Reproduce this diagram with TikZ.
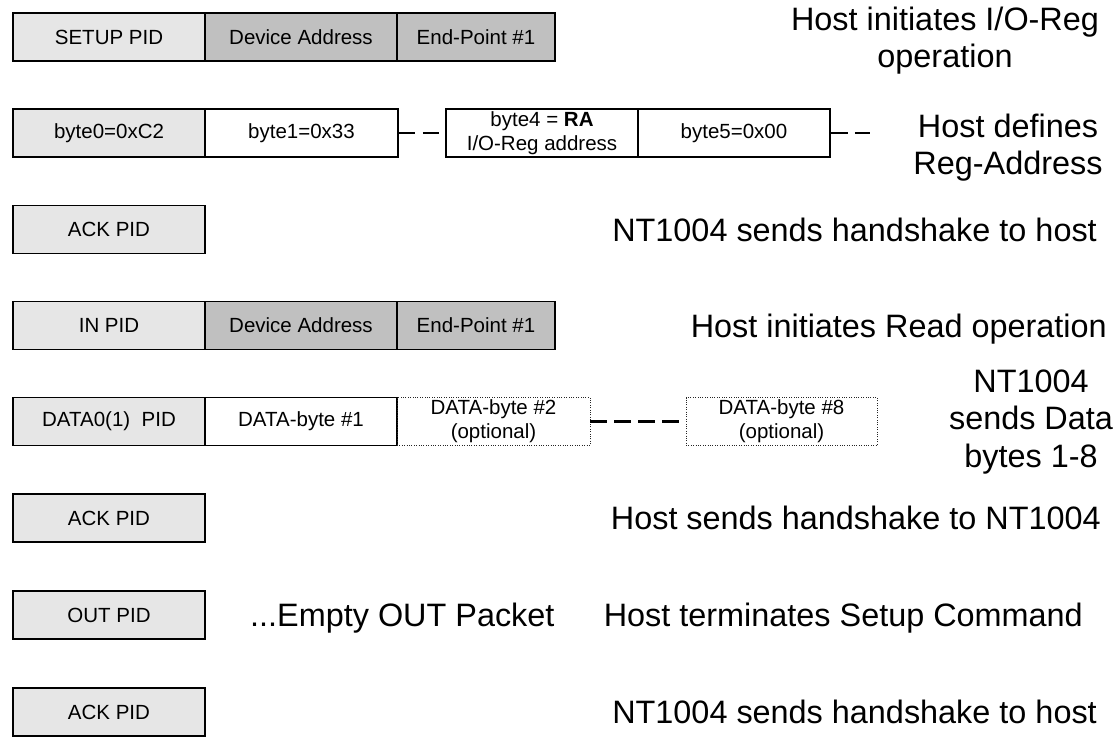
\documentclass[tikz,border=0pt]{standalone}
\usepackage{fontspec}
\setmainfont{Liberation Sans}
\definecolor{pidgray}{HTML}{E6E6E6}
\definecolor{addrgray}{HTML}{C0C0C0}
\newcommand\bxfont{\fontsize{20.5}{24}\selectfont}
\newcommand\lblfont{\fontsize{32.4}{37.3}\selectfont}
\tikzset{
  fld/.style={draw=black, line width=1.5pt, minimum height=48pt, inner sep=0pt,
              font=\bxfont, align=center, fill=white},
  pid/.style={fld, fill=pidgray},
  addr/.style={fld, fill=addrgray},
  opt/.style={draw=black!85, line width=0.8pt, dash pattern=on 0.9pt off 1.5pt,
              minimum height=48pt, inner sep=0pt, font=\bxfont, align=center},
  dashln/.style={line width=2.2pt, dash pattern=on 16pt off 8pt},
  lbl/.style={font=\lblfont, inner sep=0pt, align=center}
}
\begin{document}
\begin{tikzpicture}[x=1pt,y=-1pt]
\useasboundingbox (0,0) rectangle (1119,737);

% Row 1
\node[pid, minimum width=192pt]  (setup) at (109,37) {SETUP PID};
\node[addr, minimum width=192pt] (dev1)  at (301,37) {Device Address};
\node[addr, minimum width=158pt] (ep1)   at (476,37) {End-Point \#1};

% Row 2
\node[pid, minimum width=192pt] (byte0) at (109,133) {byte0=0xC2};
\node[fld, minimum width=193pt] (byte1) at (301.5,133) {byte1=0x33};
\node[fld, minimum width=192pt] (byte4) at (542,133) {byte4 = \textbf{RA}\\I/O-Reg address};
\node[fld, minimum width=192pt] (byte5) at (734,133) {byte5=0x00};
\coordinate (b5end) at (870,133);
\draw[dashln] (byte1.east) -- (byte4.west);
\draw[dashln, dash pattern=on 17pt off 7pt] (byte5.east) -- (b5end);

% Row 3
\node[pid, minimum width=192pt] (ack1) at (109,229.5) {ACK PID};

% Row 4
\node[pid, minimum width=192pt]  (inpid) at (109,325.5) {IN PID};
\node[addr, minimum width=192pt] (dev2)  at (301,325.5) {Device Address};
\node[addr, minimum width=158pt] (ep2)   at (476,325.5) {End-Point \#1};

% Row 5
\node[pid, minimum width=192pt] (data0) at (109,421.5) {DATA0(1)\ \ PID};
\node[fld, minimum width=192pt] (d1)    at (301,421.5) {DATA-byte \#1};
\node[opt, minimum width=193pt] (d2)    at (493.5,421.5) {DATA-byte \#2\\(optional)};
\node[opt, minimum width=191pt] (d8)    at (781.5,421.5) {DATA-byte \#8\\(optional)};
\draw[dashln, dash pattern=on 17pt off 7pt] (d2.east) -- (d8.west);

% Row 6
\node[pid, minimum width=192pt] (ack2) at (109,518) {ACK PID};
% Row 7
\node[pid, minimum width=192pt] (outpid) at (109,615) {OUT PID};
\node[lbl, anchor=base west] (empty) at (250,626.6) {...Empty OUT Packet};
% Row 8
\node[pid, minimum width=192pt] (ack3) at (109,712) {ACK PID};

% Right-hand descriptions
\node[lbl, anchor=north] (r1) at (945,6.7) {Host initiates I/O-Reg\\operation};
\node[lbl, anchor=north] (r2) at (1008,113.4) {Host defines\\Reg-Address};
\node[lbl, anchor=base east] (r3) at (1097,241.1) {NT1004 sends handshake to host};
\node[lbl, anchor=base east] (r4) at (1107,337.1) {Host initiates Read operation};
\node[lbl, anchor=north] (r5) at (1031,369.8) {NT1004\\sends Data\\bytes 1-8};
\node[lbl, anchor=base east] (r6) at (1101,529.6) {Host sends handshake to NT1004};
\node[lbl, anchor=base east] (r7) at (1083,626.6) {Host terminates Setup Command};
\node[lbl, anchor=base east] (r8) at (1097,723.6) {NT1004 sends handshake to host};
\end{tikzpicture}
\end{document}
